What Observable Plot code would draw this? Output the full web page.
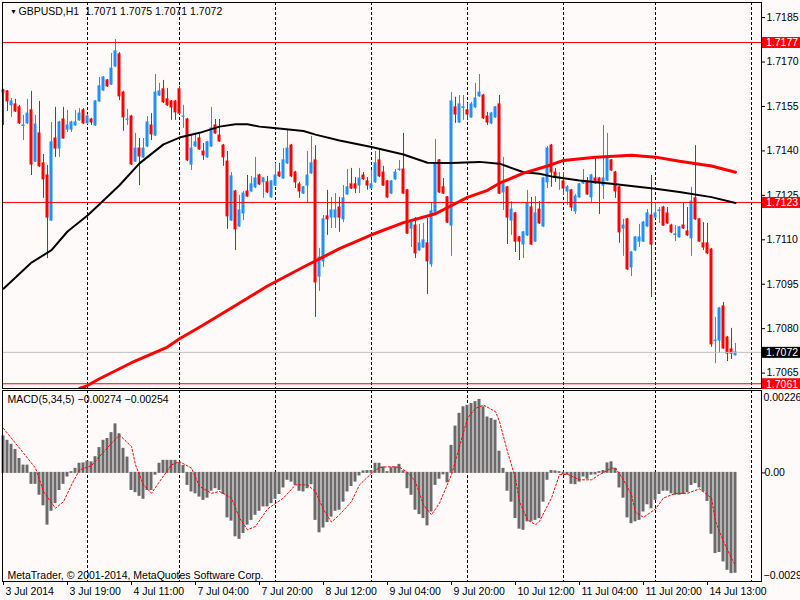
<!DOCTYPE html>
<html><head><meta charset="utf-8">
<script src="https://cdn.jsdelivr.net/npm/d3@7"></script>
<script src="https://cdn.jsdelivr.net/npm/@observablehq/plot@0.6"></script>
<style>
html,body{margin:0;padding:0;background:#fffafa;}
#chart{position:relative;width:800px;height:600px;overflow:hidden;background:#fffafa;}
#chart svg{position:absolute;left:0;}
</style></head><body><div id="chart"></div>
<script>
// ---------- data ----------
const symbol = "GBPUSD,H1";
const sessions = [["2014-07-03",3,23],["2014-07-04",0,22],["2014-07-07",0,23],["2014-07-08",0,23],["2014-07-09",0,23],["2014-07-10",0,23],["2014-07-11",0,22],["2014-07-14",0,20]];

const open = [
1.71604,1.71601,1.71554,1.71557,1.71547,1.71484,1.71493,1.71537,1.71364,1.71459,
1.71358,1.71317,1.71165,1.71442,1.71408,1.71506,1.71472,1.71472,1.71486,1.71503,
1.71537,1.71493,1.71506,1.71486,1.71567,1.71604,1.71638,1.71624,1.71685,1.71726,
1.71597,1.71505,1.71516,1.71364,1.71408,1.71378,1.71415,1.71486,1.71452,1.71587,
1.71608,1.71574,1.71567,1.71567,1.71608,1.71515,1.71506,1.71354,1.71415,1.71442,
1.71398,1.71378,1.71415,1.71486,1.71452,1.71418,1.71364,1.71165,1.71263,1.71145,
1.71189,1.71263,1.71263,1.71277,1.71317,1.71294,1.71294,1.71243,1.71283,1.71327,
1.71307,1.71358,1.71418,1.71327,1.71287,1.71256,1.71283,1.71324,1.71368,1.70976,
1.71027,1.71179,1.71175,1.71175,1.71209,1.71169,1.71253,1.71287,1.71287,1.71283,
1.71317,1.71297,1.71273,1.71294,1.71368,1.71327,1.71297,1.71256,1.71304,1.71336,
1.71337,1.71267,1.71138,1.71148,1.71064,1.71074,1.71088,1.71017,1.71192,1.71368,
1.71277,1.71243,1.71148,1.71547,1.71496,1.71545,1.71537,1.71513,1.71547,1.71584,
1.71587,1.71516,1.71493,1.71513,1.71557,1.71260,1.71277,1.71165,1.71189,1.71108,
1.71084,1.71115,1.71209,1.71094,1.71202,1.71145,1.71294,1.71418,1.71327,1.71309,
1.71297,1.71263,1.71267,1.71196,1.71243,1.71290,1.71297,1.71243,1.71307,1.71307,
1.71283,1.71300,1.71368,1.71327,1.71277,1.71138,1.71169,1.71007,1.71064,1.71094,
1.71094,1.71145,1.71182,1.71175,1.71197,1.71209,1.71189,1.71148,1.71116,1.71108,
1.71148,1.71128,1.71105,1.71240,1.71169,1.71088,1.71088,1.71067,1.70758,1.70760,
1.70875,1.70770,1.70730,1.70710];

const high = [
1.71608,1.71604,1.71577,1.71574,1.71554,1.71520,1.71574,1.71601,1.71520,1.71567,
1.71388,1.71351,1.71496,1.71547,1.71500,1.71547,1.71537,1.71500,1.71537,1.71543,
1.71543,1.71523,1.71510,1.71570,1.71648,1.71651,1.71641,1.71729,1.71776,1.71732,
1.71601,1.71540,1.71520,1.71459,1.71442,1.71442,1.71516,1.71526,1.71658,1.71628,
1.71638,1.71611,1.71570,1.71570,1.71618,1.71554,1.71510,1.71452,1.71456,1.71456,
1.71425,1.71432,1.71547,1.71506,1.71506,1.71422,1.71398,1.71327,1.71267,1.71250,
1.71263,1.71317,1.71314,1.71378,1.71321,1.71310,1.71314,1.71300,1.71358,1.71358,
1.71408,1.71469,1.71422,1.71331,1.71294,1.71280,1.71398,1.71449,1.71418,1.71071,
1.71182,1.71267,1.71243,1.71256,1.71243,1.71283,1.71337,1.71341,1.71310,1.71341,
1.71327,1.71310,1.71334,1.71398,1.71408,1.71348,1.71300,1.71300,1.71337,1.71368,
1.71459,1.71270,1.71165,1.71175,1.71152,1.71155,1.71172,1.71226,1.71439,1.71371,
1.71307,1.71246,1.71597,1.71581,1.71587,1.71587,1.71560,1.71564,1.71628,1.71658,
1.71591,1.71530,1.71530,1.71550,1.71587,1.71378,1.71280,1.71229,1.71192,1.71111,
1.71128,1.71267,1.71243,1.71246,1.71229,1.71310,1.71415,1.71422,1.71341,1.71327,
1.71327,1.71283,1.71270,1.71253,1.71290,1.71337,1.71310,1.71321,1.71381,1.71310,
1.71486,1.71459,1.71371,1.71331,1.71280,1.71169,1.71172,1.71061,1.71111,1.71152,
1.71162,1.71202,1.71317,1.71223,1.71209,1.71213,1.71209,1.71152,1.71148,1.71145,
1.71226,1.71209,1.71277,1.71418,1.71172,1.71158,1.71155,1.71071,1.70838,1.70872,
1.70888,1.70774,1.70801,1.70750];

const low = [
1.71486,1.71533,1.71513,1.71530,1.71489,1.71435,1.71489,1.71317,1.71361,1.71344,
1.71240,1.71037,1.71162,1.71378,1.71378,1.71439,1.71462,1.71462,1.71483,1.71500,
1.71489,1.71489,1.71486,1.71483,1.71564,1.71601,1.71614,1.71621,1.71682,1.71570,
1.71466,1.71486,1.71351,1.71361,1.71283,1.71375,1.71412,1.71435,1.71449,1.71584,
1.71560,1.71550,1.71503,1.71503,1.71523,1.71476,1.71364,1.71334,1.71412,1.71402,
1.71368,1.71375,1.71412,1.71456,1.71429,1.71348,1.71135,1.71162,1.71064,1.71142,
1.71165,1.71243,1.71260,1.71273,1.71283,1.71240,1.71256,1.71240,1.71280,1.71310,
1.71304,1.71354,1.71310,1.71273,1.71240,1.71253,1.71226,1.71321,1.70838,1.70926,
1.71007,1.71115,1.71138,1.71138,1.71125,1.71158,1.71250,1.71270,1.71256,1.71256,
1.71300,1.71267,1.71270,1.71290,1.71310,1.71280,1.71240,1.71253,1.71300,1.71331,
1.71253,1.71118,1.71074,1.71037,1.71061,1.71071,1.70915,1.71007,1.71189,1.71256,
1.71253,1.71155,1.71044,1.71493,1.71493,1.71503,1.71503,1.71510,1.71543,1.71581,
1.71506,1.71486,1.71489,1.71510,1.71253,1.71199,1.71084,1.71115,1.71057,1.71030,
1.71037,1.71111,1.71081,1.71091,1.71152,1.71142,1.71273,1.71277,1.71294,1.71267,
1.71250,1.71216,1.71196,1.71185,1.71240,1.71287,1.71250,1.71226,1.71287,1.71185,
1.71236,1.71297,1.71331,1.71240,1.71088,1.71044,1.70996,1.70976,1.71061,1.71074,
1.71091,1.71142,1.70905,1.71172,1.71155,1.71145,1.71152,1.71121,1.71094,1.71105,
1.71135,1.71111,1.71044,1.71165,1.71091,1.71064,1.71050,1.70737,1.70682,1.70716,
1.70730,1.70689,1.70696,1.70708];

const close = [
1.71597,1.71567,1.71567,1.71533,1.71493,1.71486,1.71526,1.71354,1.71489,1.71348,
1.71304,1.71175,1.71429,1.71408,1.71496,1.71442,1.71486,1.71496,1.71496,1.71526,
1.71493,1.71516,1.71496,1.71567,1.71618,1.71648,1.71618,1.71678,1.71736,1.71584,
1.71513,1.71506,1.71354,1.71408,1.71381,1.71408,1.71496,1.71456,1.71597,1.71601,
1.71564,1.71554,1.71547,1.71530,1.71526,1.71516,1.71368,1.71408,1.71429,1.71405,
1.71385,1.71429,1.71476,1.71459,1.71432,1.71378,1.71179,1.71314,1.71135,1.71199,
1.71256,1.71246,1.71287,1.71307,1.71287,1.71307,1.71260,1.71297,1.71317,1.71314,
1.71368,1.71408,1.71314,1.71294,1.71263,1.71277,1.71317,1.71358,1.70956,1.71040,
1.71169,1.71169,1.71199,1.71199,1.71175,1.71240,1.71277,1.71273,1.71273,1.71307,
1.71304,1.71283,1.71287,1.71358,1.71314,1.71283,1.71243,1.71297,1.71327,1.71337,
1.71256,1.71121,1.71158,1.71054,1.71088,1.71098,1.71027,1.71196,1.71358,1.71260,
1.71256,1.71158,1.71567,1.71523,1.71557,1.71547,1.71523,1.71557,1.71577,1.71597,
1.71510,1.71496,1.71526,1.71547,1.71256,1.71287,1.71175,1.71202,1.71094,1.71094,
1.71125,1.71223,1.71084,1.71189,1.71155,1.71307,1.71408,1.71327,1.71310,1.71310,
1.71273,1.71277,1.71209,1.71246,1.71287,1.71297,1.71253,1.71317,1.71290,1.71290,
1.71307,1.71378,1.71334,1.71263,1.71125,1.71148,1.71000,1.71057,1.71108,1.71108,
1.71158,1.71189,1.71084,1.71189,1.71199,1.71148,1.71155,1.71125,1.71118,1.71142,
1.71138,1.71115,1.71229,1.71169,1.71094,1.71074,1.71054,1.70747,1.70760,1.70868,
1.70733,1.70716,1.70716,1.70720];

// moving averages, read at these bars
const maBlackBars = [0,7,12,16,21,24,29,34,40,44,49,54,58,61,64,67,75,78,84,92,100,106,112,119,124,130,134,137,144,152,163,169,177,183];
const maBlack = [1.70935,1.71023,1.71065,1.71128,1.71182,1.71220,1.71284,1.71358,1.71422,1.71445,1.71461,1.71482,1.71490,1.71490,1.71482,1.71478,1.71467,1.71455,1.71435,1.71413,1.71388,1.71360,1.71359,1.71363,1.71357,1.71328,1.71323,1.71314,1.71300,1.71289,1.71272,1.71261,1.71244,1.71224];
const maRedBars = [19,21,24,32,41,44,49,58,66,75,84,92,100,108,116,121,124,130,136,140,148,157,163,169,177,183];
const maRed = [1.70598,1.70608,1.70631,1.70685,1.70738,1.70766,1.70805,1.70878,1.70944,1.71008,1.71070,1.71117,1.71158,1.71188,1.71243,1.71267,1.71291,1.71325,1.71349,1.71368,1.71379,1.71385,1.71379,1.71365,1.71349,1.71328];

// horizontal levels
const levels = [1.71766, 1.71226, 1.70614];

// price axis ticks
const priceTicks = [1.7185, 1.7170, 1.7155, 1.7140, 1.7125, 1.7110, 1.7095, 1.7080, 1.7065];

// MACD(5,34,5)
const macdName = "MACD(5,34,5)";
const hist = [
0.00100,0.00088,0.00077,0.00063,0.00038,0.00020,0.00020,-0.00030,-0.00030,-0.00060,
-0.00089,-0.00142,-0.00104,-0.00083,-0.00047,-0.00030,-0.00010,0.00002,0.00011,0.00025,
0.00026,0.00031,0.00029,0.00043,0.00068,0.00088,0.00093,0.00109,0.00133,0.00106,
0.00066,0.00042,-0.00047,-0.00053,-0.00063,-0.00071,-0.00047,-0.00047,-0.00005,0.00025,
0.00033,0.00033,0.00033,0.00033,0.00026,0.00019,-0.00033,-0.00051,-0.00056,-0.00065,
-0.00074,-0.00068,-0.00049,-0.00042,-0.00047,-0.00058,-0.00122,-0.00131,-0.00174,-0.00181,
-0.00165,-0.00142,-0.00129,-0.00115,-0.00104,-0.00092,-0.00092,-0.00083,-0.00071,-0.00058,
-0.00040,-0.00019,-0.00024,-0.00033,-0.00049,-0.00051,-0.00042,-0.00031,-0.00129,-0.00163,
-0.00150,-0.00135,-0.00120,-0.00104,-0.00101,-0.00079,-0.00051,-0.00036,-0.00024,-0.00007,
0.00004,0.00005,0.00005,0.00025,0.00025,0.00015,0.00002,0.00013,0.00015,0.00022,
0.00004,-0.00042,-0.00060,-0.00101,-0.00113,-0.00124,-0.00144,-0.00106,-0.00033,-0.00016,
-0.00004,-0.00026,0.00074,0.00127,0.00162,0.00180,0.00184,0.00189,0.00194,0.00200,
0.00180,0.00152,0.00148,0.00143,0.00058,0.00011,-0.00049,-0.00079,-0.00124,-0.00153,
-0.00156,-0.00133,-0.00133,-0.00129,-0.00124,-0.00079,-0.00019,0.00005,0.00004,0.00002,
-0.00004,-0.00005,-0.00030,-0.00031,-0.00024,-0.00010,-0.00016,-0.00005,-0.00004,0.00002,
0.00005,0.00026,0.00029,0.00011,-0.00040,-0.00068,-0.00122,-0.00138,-0.00133,-0.00129,
-0.00106,-0.00086,-0.00097,-0.00074,-0.00058,-0.00049,-0.00049,-0.00056,-0.00060,-0.00060,
-0.00058,-0.00053,-0.00033,-0.00028,-0.00040,-0.00051,-0.00077,-0.00167,-0.00220,-0.00217,
-0.00243,-0.00266,-0.00275,-0.00274];
const sigBars = [0,4,8,10,13,15,17,19,22,24,27,29,32,33,35,37,39,42,44,47,49,52,54,57,59,61,63,66,70,73,76,78,80,82,84,87,89,92,94,97,99,101,103,105,107,109,112,114,116,118,120,123,124,126,128,129,131,133,134,137,139,141,144,147,149,152,153,155,157,158,160,163,165,168,171,174,177,178,180,182,183];
const sigVals = [0.00122,0.00068,0.00013,-0.00051,-0.00097,-0.00079,-0.00033,0.00008,0.00020,0.00045,0.00081,0.00104,0.00072,0.00022,-0.00033,-0.00056,-0.00024,0.00022,0.00031,0.00013,-0.00037,-0.00056,-0.00051,-0.00069,-0.00124,-0.00156,-0.00147,-0.00099,-0.00069,-0.00033,-0.00033,-0.00051,-0.00101,-0.00135,-0.00115,-0.00079,-0.00033,-0.00001,0.00015,0.00017,0.00015,0.00002,-0.00024,-0.00088,-0.00115,-0.00083,-0.00005,0.00072,0.00150,0.00177,0.00186,0.00168,0.00141,0.00058,-0.00015,-0.00079,-0.00129,-0.00142,-0.00133,-0.00069,-0.00005,-0.00004,-0.00019,-0.00019,-0.00005,0.00013,0.00013,-0.00019,-0.00060,-0.00108,-0.00122,-0.00099,-0.00069,-0.00056,-0.00056,-0.00044,-0.00069,-0.00133,-0.00188,-0.00234,-0.00254];
const macdMax = 0.00226, macdMin = -0.00298;

// time axis
const tickTimes = ["2014-07-03 03:00","2014-07-03 19:00","2014-07-04 11:00","2014-07-07 04:00","2014-07-07 20:00","2014-07-08 12:00","2014-07-09 04:00","2014-07-09 20:00","2014-07-10 12:00","2014-07-11 04:00","2014-07-11 20:00","2014-07-14 13:00"];
const tickLabels = ["3 Jul 2014","3 Jul 19:00","4 Jul 11:00","7 Jul 04:00","7 Jul 20:00","8 Jul 12:00","9 Jul 04:00","9 Jul 20:00","10 Jul 12:00","11 Jul 04:00","11 Jul 20:00","14 Jul 13:00"];
const separatorTimes = ["2014-07-04 00:00","2014-07-07 00:00","2014-07-08 00:00","2014-07-09 00:00","2014-07-10 00:00","2014-07-11 00:00","2014-07-14 00:00","2014-07-15 00:00"];
const copyright = "MetaTrader, \u00a9 2001-2014, MetaQuotes Software Corp.";

// ---------- build ----------
const times = [];
for (const [day, h0, h1] of sessions) for (let h = h0; h <= h1; ++h) times.push(`${day} ${String(h).padStart(2, "0")}:00`);
const n = close.length;
for (const [name, arr] of [["open", open], ["high", high], ["low", low], ["times", times], ["hist", hist]])
  if (arr.length !== n) throw new Error(`${name} has ${arr.length} values, expected ${n}`);
if (sigBars.length !== sigVals.length) throw new Error("signal length mismatch");
if (maBlackBars.length !== maBlack.length || maRedBars.length !== maRed.length) throw new Error("MA length mismatch");

const parseT = t => new Date(t.replace(" ", "T") + ":00Z");
const barOf = t => {
  const k = times.indexOf(t);
  if (k >= 0) return k;
  return n - 1 + (parseT(t) - parseT(times[n - 1])) / 36e5;
};

const bull = "#1e90ff", bear = "#ff0000";
const bars = d3.range(n).map(i => ({i, o: open[i], h: high[i], l: low[i], c: close[i], col: close[i] >= open[i] ? bull : bear}));
const black = maBlackBars.map((b, k) => ({i: b, v: maBlack[k]}));
const red = maRedBars.map((b, k) => ({i: b, v: maRed[k]}));
const hbars = hist.map((v, i) => ({i, v}));
const signal = sigBars.map((b, k) => ({i: b, v: sigVals[k]}));
const ticks = tickTimes.map((t, k) => ({i: barOf(t), label: tickLabels[k]}));
const seps = separatorTimes.map(barOf);
const f4 = d3.format(".4f"), f5 = d3.format(".5f");
const bid = close[n - 1];

const xDomain = [-0.25, 189.5];
const font = '"Liberation Sans Narrow", "Liberation Sans", Arial, sans-serif';
const fs = 10.5;
const W = 800, mR = 39, mL = 2;
const baseStyle = {background: "#fffafa", fontFamily: font, fontSize: fs + "px", color: "#000"};

// ---------- price panel ----------
const header = `${symbol}\u00a0 ${f4(open[n-1])} ${f4(high[n-1])} ${f4(low[n-1])} ${f4(close[n-1])}`;
const main = Plot.plot({
  width: W, height: 389, marginTop: 2, marginBottom: 1, marginLeft: mL, marginRight: mR,
  style: baseStyle,
  color: {type: "identity"},
  x: {domain: xDomain, axis: null},
  y: {domain: [1.70598, 1.71901], axis: "right", ticks: priceTicks, tickFormat: f4, tickSize: 3, tickPadding: 2, label: null},
  marks: [
    Plot.ruleX(seps, {x: d => d, stroke: "#000", strokeDasharray: "3,2"}),
    Plot.ruleX(bars, {x: "i", y1: "l", y2: "h", stroke: "col"}),
    Plot.rect(bars, {x1: d => d.i - 0.375, x2: d => d.i + 0.375, y1: "o", y2: "c", fill: "col", insetTop: -0.5, insetBottom: -0.5}),
    Plot.ruleY([bid], {y: d => d, stroke: "#c0c0c0"}),
    Plot.ruleY(levels, {y: d => d, stroke: "#ff0000"}),
    Plot.line(black, {x: "i", y: "v", stroke: "#000", strokeWidth: 2}),
    Plot.line(red, {x: "i", y: "v", stroke: "#ff0000", strokeWidth: 3, clip: true}),
    Plot.frame({stroke: "#000"}),
    Plot.text(["\u25BC"], {frameAnchor: "top-left", dx: 7.5, dy: 9, fontSize: 7, lineAnchor: "middle", fill: "#000"}),
    Plot.text([header], {frameAnchor: "top-left", dx: 16, dy: 9, textAnchor: "start", lineAnchor: "middle", fill: "#000"})
  ]
});
main.style.top = "0px";

// price tags on the axis (positioned through the plot's y scale)
{
  const ys = main.scale("y");
  const g = d3.select(main).append("g").attr("font-family", font).attr("font-size", fs).attr("text-anchor", "start");
  const tags = levels.map(v => ({v, fill: "#ff0000"})).concat([{v: bid, fill: "#000"}]);
  for (const t of tags) {
    const yy = ys.apply(t.v) + 0.5;
    g.append("rect").attr("x", W - mR + 1).attr("y", yy - 5.5).attr("width", mR).attr("height", 11).attr("fill", t.fill);
    g.append("text").attr("x", W - mR + 5).attr("y", yy).attr("dy", "0.36em").attr("text-anchor", "start").attr("fill", "#fff").text(f4(t.v));
  }
}

// ---------- MACD panel ----------
const macd = Plot.plot({
  width: W, height: 211, marginTop: 1, marginBottom: 19, marginLeft: mL, marginRight: mR,
  style: baseStyle,
  x: {domain: xDomain, axis: "bottom", ticks: ticks.map(d => d.i), tickFormat: () => "", tickSize: 4, label: null},
  y: {domain: [macdMin, macdMax], axis: "right", ticks: [0], tickFormat: () => "0.00", tickSize: 3, tickPadding: 0, label: null},
  marks: [
    Plot.ruleX(seps, {x: d => d, stroke: "#000", strokeDasharray: "3,2"}),
    Plot.rect(hbars, {x1: d => d.i - 0.375, x2: d => d.i + 0.375, y1: 0, y2: "v", fill: "#6a6a6a", insetTop: -0.5, insetBottom: -0.5}),
    Plot.line(signal, {x: "i", y: "v", stroke: "#ff0000", strokeWidth: 1, strokeDasharray: "2,2"}),
    Plot.frame({stroke: "#000"}),
    Plot.text([`${macdName} ${f5(hist[n-1])} ${f5(sigVals[sigVals.length-1])}`], {frameAnchor: "top-left", dx: 5, dy: 9.5, textAnchor: "start", lineAnchor: "middle", fill: "#000"}),
    Plot.text([copyright], {frameAnchor: "bottom-left", dx: 5, dy: -6, textAnchor: "start", lineAnchor: "middle", fill: "#000"}),
    Plot.text([f5(macdMax)], {frameAnchor: "top-right", dx: 2, dy: 7.5, textAnchor: "start", lineAnchor: "middle", fill: "#000"}),
    Plot.text([f5(macdMin)], {frameAnchor: "bottom-right", dx: 2, dy: -5.5, textAnchor: "start", lineAnchor: "middle", fill: "#000"}),
    Plot.text(ticks, {x: "i", text: "label", frameAnchor: "bottom", dx: 2, dy: 10.5, textAnchor: "start", lineAnchor: "middle", fill: "#000"})
  ]
});
macd.style.top = "389px";

const root = document.getElementById("chart");
root.append(main, macd);
</script>
</body></html>
